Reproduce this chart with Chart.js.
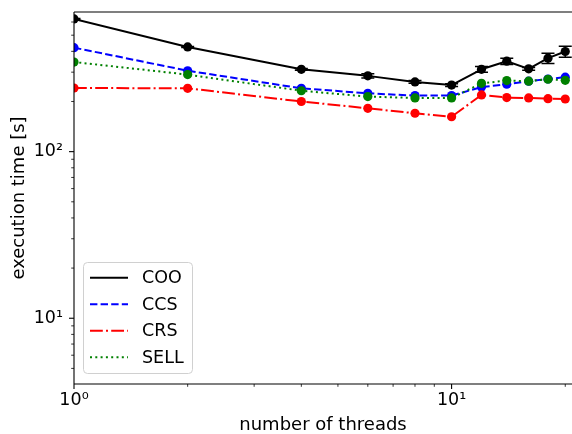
<!DOCTYPE html>
<html>
<head>
<meta charset="utf-8">
<script src="https://cdn.jsdelivr.net/npm/chart.js@4.4.1/dist/chart.umd.min.js"></script>
<style>
html,body{margin:0;padding:0;background:#fff;}
canvas{display:block;}
</style>
</head>
<body>
<canvas id="c" width="572" height="434"></canvas>
<script>
// ---- data ----
const threads = [1, 2, 4, 6, 8, 10, 12, 14, 16, 18, 20];
const cooTime = [626, 425, 312, 285, 262, 251, 312, 349, 314, 364, 399];
const cooErr  = [3, 3, 4, 8, 5, 5, 12, 15, 6, 26, 30];
const ccsTime = [421, 306, 240, 224, 217, 217, 244, 254, 265, 273, 280];
const crsTime = [241, 240, 200, 182, 170, 162, 219, 211, 210, 208, 207];
const sellTime = [345, 290, 232, 214, 210, 210, 257, 267, 265, 272, 268];
const seriesNames = ['COO', 'CCS', 'CRS', 'SELL'];
const xTickValues = [1, 2, 3, 4, 5, 6, 7, 8, 9, 10, 20];
const yTickValues = [5, 6, 7, 8, 9, 10, 20, 30, 40, 50, 60, 70, 80, 90, 100, 200, 300, 400, 500, 600];
const supers = {'0': '\u2070', '1': '\u00B9', '2': '\u00B2', '3': '\u00B3'};

const FONT = '"DejaVu Sans", sans-serif';
const FS = 17.5;
const colors = ['#000000', '#0000ff', '#ff0000', '#008000'];
const dashes = [[], [7.4, 3.2], [12.8, 3.2, 2, 3.2], [2, 3.3]];

function isPow10(v) {
  const l = Math.log10(v);
  return Math.abs(l - Math.round(l)) < 1e-9;
}
function powLabel(v) {
  const e = String(Math.round(Math.log10(v)));
  return '10' + e.split('').map(c => supers[c]).join('');
}

function mkDataset(i, arr, order) {
  return {
    label: seriesNames[i],
    data: threads.map((t, k) => ({x: t, y: arr[k]})),
    borderColor: colors[i],
    backgroundColor: colors[i],
    borderWidth: 2,
    borderDash: dashes[i],
    borderJoinStyle: 'round',
    pointRadius: 4.6,
    pointBorderWidth: 0,
    pointBackgroundColor: colors[i],
    pointBorderColor: colors[i],
    tension: 0,
    fill: false,
    clip: 0,
    order: order
  };
}

const decor = {
  id: 'decor',
  afterDatasetsDraw(chart) {
    const ctx = chart.ctx, xs = chart.scales.x, ys = chart.scales.y;
    const a = chart.chartArea;
    // error bars for COO
    ctx.save();
    ctx.beginPath();
    ctx.rect(a.left, a.top, a.right - a.left, a.bottom - a.top);
    ctx.clip();
    ctx.strokeStyle = '#000';
    ctx.lineWidth = 1.5;
    threads.forEach((t, k) => {
      const px = xs.getPixelForValue(t);
      const y1 = ys.getPixelForValue(cooTime[k] + cooErr[k]);
      const y2 = ys.getPixelForValue(cooTime[k] - cooErr[k]);
      ctx.beginPath();
      ctx.moveTo(px, y1); ctx.lineTo(px, y2);
      ctx.moveTo(px - 6.5, y1); ctx.lineTo(px + 6.5, y1);
      ctx.moveTo(px - 6.5, y2); ctx.lineTo(px + 6.5, y2);
      ctx.stroke();
    });
    ctx.restore();
  },
  afterDraw(chart) {
    const ctx = chart.ctx, xs = chart.scales.x, ys = chart.scales.y;
    const a = chart.chartArea;
    ctx.save();
    // spines
    ctx.strokeStyle = '#000';
    ctx.lineWidth = 1.1;
    ctx.beginPath();
    ctx.moveTo(a.left, a.top); ctx.lineTo(a.right, a.top);
    ctx.moveTo(a.left, a.top); ctx.lineTo(a.left, a.bottom);
    ctx.moveTo(a.left, a.bottom); ctx.lineTo(a.right, a.bottom);
    ctx.stroke();
    // ticks
    xs.ticks.forEach(t => {
      const px = xs.getPixelForValue(t.value);
      const maj = isPow10(t.value);
      ctx.lineWidth = maj ? 1.1 : 0.8;
      ctx.beginPath();
      ctx.moveTo(px, a.bottom); ctx.lineTo(px, a.bottom + (maj ? 5 : 2.8));
      ctx.stroke();
    });
    ys.ticks.forEach(t => {
      const py = ys.getPixelForValue(t.value);
      const maj = isPow10(t.value);
      ctx.lineWidth = maj ? 1.1 : 0.8;
      ctx.beginPath();
      ctx.moveTo(a.left, py); ctx.lineTo(a.left - (maj ? 5 : 2.8), py);
      ctx.stroke();
    });
    // legend
    const bx = 83.5, by = 262.5, bw = 109, bh = 111, r = 4;
    ctx.beginPath();
    ctx.moveTo(bx + r, by);
    ctx.lineTo(bx + bw - r, by); ctx.arcTo(bx + bw, by, bx + bw, by + r, r);
    ctx.lineTo(bx + bw, by + bh - r); ctx.arcTo(bx + bw, by + bh, bx + bw - r, by + bh, r);
    ctx.lineTo(bx + r, by + bh); ctx.arcTo(bx, by + bh, bx, by + bh - r, r);
    ctx.lineTo(bx, by + r); ctx.arcTo(bx, by, bx + r, by, r);
    ctx.closePath();
    ctx.fillStyle = 'rgba(255,255,255,0.8)';
    ctx.fill();
    ctx.strokeStyle = '#d0d0d0';
    ctx.lineWidth = 1;
    ctx.stroke();
    ctx.font = FS + 'px ' + FONT;
    ctx.textBaseline = 'middle';
    ctx.textAlign = 'left';
    seriesNames.forEach((n, i) => {
      const yy = 277.7 + i * 26.5;
      ctx.strokeStyle = colors[i];
      ctx.lineWidth = 2;
      ctx.setLineDash(dashes[i]);
      ctx.beginPath();
      ctx.moveTo(90, yy); ctx.lineTo(128, yy);
      ctx.stroke();
      ctx.setLineDash([]);
      ctx.fillStyle = '#000';
      ctx.fillText(n, 142, yy + 1);
    });
    ctx.restore();
  }
};

new Chart(document.getElementById('c'), {
  type: 'line',
  data: {
    datasets: [
      mkDataset(0, cooTime, 4),
      mkDataset(1, ccsTime, 3),
      mkDataset(2, crsTime, 2),
      mkDataset(3, sellTime, 1)
    ]
  },
  options: {
    responsive: false,
    devicePixelRatio: 1,
    animation: false,
    layout: {autoPadding: false, padding: {top: 12, left: 0, right: 0, bottom: 0}},
    plugins: {legend: {display: false}, tooltip: {enabled: false}},
    scales: {
      x: {
        type: 'logarithmic',
        min: 1,
        max: 20.84,
        afterBuildTicks: s => { s.ticks = xTickValues.map(v => ({value: v})); },
        afterFit: s => { s.height = 50; s.paddingLeft = 0; s.paddingRight = 0; },
        grid: {display: false, drawTicks: false},
        border: {display: false},
        ticks: {
          autoSkip: false, maxRotation: 0, padding: 6, color: '#000',
          font: {family: FONT, size: FS},
          callback: v => isPow10(v) ? powLabel(v) : ''
        },
        title: {display: true, text: 'number of threads', color: '#000',
          font: {family: FONT, size: 18, lineHeight: 1}, padding: {top: 0, bottom: 0}}
      },
      y: {
        type: 'logarithmic',
        min: 4.03,
        max: 689,
        afterBuildTicks: s => { s.ticks = yTickValues.map(v => ({value: v})); },
        afterFit: s => { s.width = 74; s.paddingTop = 0; s.paddingBottom = 0; },
        grid: {display: false, drawTicks: false},
        border: {display: false},
        ticks: {
          autoSkip: false, padding: 11, color: '#000',
          font: {family: FONT, size: FS},
          callback: v => isPow10(v) ? powLabel(v) : ''
        },
        title: {display: true, text: 'execution time [s]', color: '#000',
          font: {family: FONT, size: 18, lineHeight: 1}, padding: {top: 10, bottom: 0}}
      }
    }
  },
  plugins: [decor]
});
</script>
</body>
</html>
